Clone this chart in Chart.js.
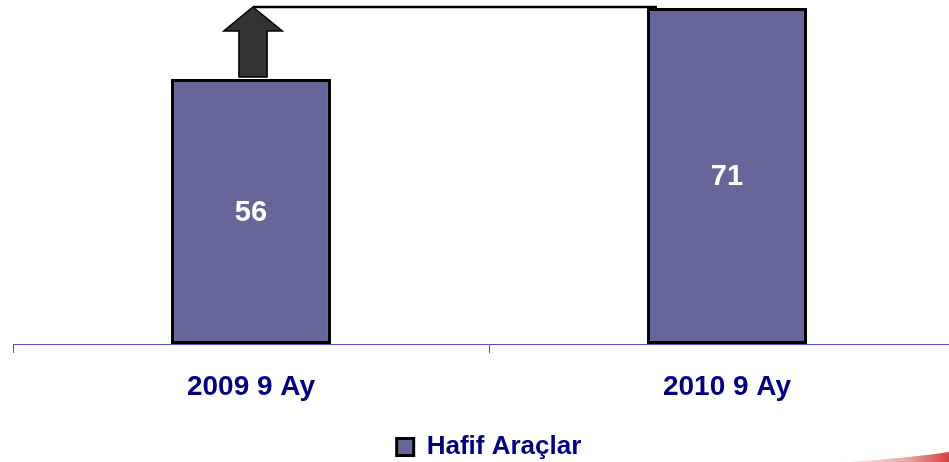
<!DOCTYPE html>
<html>
<head>
<meta charset="utf-8">
<script src="https://cdn.jsdelivr.net/npm/chart.js@4/dist/chart.umd.min.js"></script>
<style>
  html, body { margin: 0; padding: 0; background: #ffffff; }
  #wrap { width: 949px; height: 462px; overflow: hidden; position: relative; background: #fff; }
  #c { display: block; }
</style>
</head>
<body>
<div id="wrap"><canvas id="c" width="965" height="470"></canvas></div>
<script>
const categories = ['2009 9 Ay', '2010 9 Ay'];
const seriesName = 'Hafif Araçlar';
const values = [56, 71];
const axisMax = 72.7;

const BAR_FILL = '#666699';
const NAVY = '#000080';
const AXIS = '#4f4fc0';
const FONT = 'Arial, "Liberation Sans", Helvetica, sans-serif';

const valueLabels = {
  id: 'valueLabels',
  afterDatasetsDraw(chart) {
    const ctx = chart.ctx;
    const meta = chart.getDatasetMeta(0);
    ctx.save();
    ctx.fillStyle = '#ffffff';
    ctx.font = 'bold 29px ' + FONT;
    ctx.textAlign = 'center';
    ctx.textBaseline = 'middle';
    meta.data.forEach((bar, i) => {
      ctx.fillText(String(values[i]), bar.x, (bar.y + bar.base) / 2 + 1);
    });
    ctx.restore();
  }
};

const growthArrow = {
  id: 'growthArrow',
  afterDatasetsDraw(chart) {
    const ctx = chart.ctx;
    const meta = chart.getDatasetMeta(0);
    const yScale = chart.scales.y;
    const b0 = meta.data[0], b1 = meta.data[1];
    const w = b0.width;
    const cx = b0.x + 2;
    const tipY = yScale.getPixelForValue(values[1]) - 1;
    const bottomY = b0.y - 2;
    const headHalf = w * 0.183;
    const shaftHalf = w * 0.088;
    const headH = w * 0.15;
    ctx.save();
    ctx.strokeStyle = '#000000';
    ctx.lineWidth = 2.5;
    ctx.beginPath();
    ctx.moveTo(cx, tipY);
    ctx.lineTo(b1.x - b1.width / 2 + 10, tipY);
    ctx.stroke();
    ctx.beginPath();
    ctx.moveTo(cx, tipY);
    ctx.lineTo(cx + headHalf, tipY + headH);
    ctx.lineTo(cx + shaftHalf, tipY + headH);
    ctx.lineTo(cx + shaftHalf, bottomY);
    ctx.lineTo(cx - shaftHalf, bottomY);
    ctx.lineTo(cx - shaftHalf, tipY + headH);
    ctx.lineTo(cx - headHalf, tipY + headH);
    ctx.closePath();
    ctx.fillStyle = '#333333';
    ctx.fill();
    ctx.lineWidth = 1.5;
    ctx.strokeStyle = '#000000';
    ctx.stroke();
    ctx.restore();
  }
};

const swoosh = {
  id: 'swoosh',
  afterDraw(chart) {
    const ctx = chart.ctx;
    ctx.save();
    const g = ctx.createLinearGradient(840, 0, 949, 0);
    g.addColorStop(0, 'rgba(210,40,40,0)');
    g.addColorStop(0.6, 'rgba(210,60,60,0.45)');
    g.addColorStop(1, 'rgba(200,30,30,0.85)');
    ctx.fillStyle = g;
    ctx.beginPath();
    ctx.moveTo(840, 462);
    ctx.quadraticCurveTo(905, 459, 955, 451);
    ctx.lineTo(955, 462);
    ctx.closePath();
    ctx.fill();
    ctx.restore();
  }
};

new Chart(document.getElementById('c'), {
  type: 'bar',
  data: {
    labels: categories,
    datasets: [{
      label: seriesName,
      data: values,
      backgroundColor: BAR_FILL,
      borderColor: '#000000',
      borderWidth: 3,
      borderSkipped: false,
      barPercentage: 1,
      categoryPercentage: 0.336
    }]
  },
  options: {
    responsive: false,
    animation: false,
    events: [],
    layout: { padding: { left: 13, right: 0, top: 0, bottom: 0 } },
    scales: {
      x: {
        offset: true,
        grid: {
          display: true,
          drawOnChartArea: false,
          drawTicks: true,
          tickLength: 9,
          color: AXIS,
          lineWidth: 1,
          offset: true
        },
        border: { display: true, color: AXIS, width: 1 },
        ticks: {
          color: NAVY,
          font: { family: FONT, size: 28, weight: 'bold' },
          padding: 17,
          maxRotation: 0
        },
        afterFit(scale) { scale.height = 80; }
      },
      y: {
        display: false,
        min: 0,
        max: axisMax
      }
    },
    plugins: {
      legend: {
        display: true,
        position: 'bottom',
        labels: {
          color: NAVY,
          font: { family: FONT, size: 26, weight: 'bold' },
          boxWidth: 17,
          boxHeight: 17,
          padding: 10
        }
      },
      tooltip: { enabled: false },
      title: { display: false }
    }
  },
  plugins: [valueLabels, growthArrow, swoosh]
});
</script>
</body>
</html>
